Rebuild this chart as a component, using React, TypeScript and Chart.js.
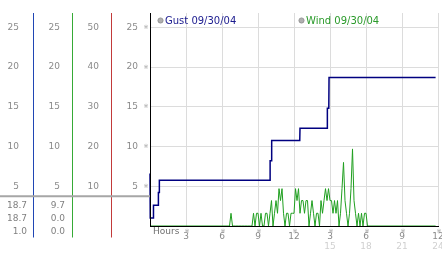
import { useEffect, useRef } from "react";
import { Chart, registerables } from "chart.js";

Chart.register(...registerables);

// ---- data ----
const speedTicks = [5, 10, 15, 20, 25];
const dirTicks = [10, 20, 30, 40, 50];
const hourTicks = [3, 6, 9, 12, 15, 18, 21, 24];
const hourLabels = ["3", "6", "9", "12", "3", "6", "9", "12"];
const hourLabels24 = ["", "", "", "", "15", "18", "21", "24"];

const gustLabel = "Gust 09/30/04";
const windLabel = "Wind 09/30/04";

const gustHours = [0, 0.02, 0.28, 0.29, 0.69, 0.7, 0.76, 0.78, 10.0, 10.01, 10.13, 10.14, 12.48, 12.5, 14.77, 14.78, 14.9, 14.92, 23.8];
const gustValues = [6.6, 1.0, 1.0, 2.6, 2.6, 4.2, 4.2, 5.75, 5.75, 8.2, 8.2, 10.75, 10.75, 12.3, 12.3, 14.8, 14.8, 18.7, 18.7];

// wind: zero at start / end, and samples every 7.5 minutes from 06:30
const windFirstHour = 0;
const windLastHour = 23.8;
const windSampleStart = 6.5;
const windSampleStepHours = 0.125;
const windSamples = [
  0, 0, 1.6, 0, 0, 0, 0, 0, 0, 0, 0, 0, 0, 0, 0, 0,
  0, 1.6, 0, 1.6, 1.6, 0, 1.6, 0, 0, 1.6, 1.6, 0,
  1.6, 3.2, 0, 1.6, 3.2, 1.6, 4.7, 3.2, 4.7, 1.6, 0, 1.6,
  1.6, 0, 1.6, 1.6, 1.6, 4.7, 3.2, 4.7, 1.6, 3.2, 3.2, 1.6,
  3.2, 3.2, 0, 1.6, 3.2, 1.6, 0, 1.6, 1.6, 0, 3.2, 1.6,
  3.2, 4.7, 3.2, 4.7, 3.2, 3.2, 1.6, 3.2, 1.6, 3.2, 0, 1.6,
  4.7, 8.0, 3.2, 1.6, 0, 1.6, 4.7, 9.7, 3.2, 1.6, 0, 1.6,
  0, 1.6, 0, 1.6, 1.6, 0, 0,
];

const GUST_COLOR = "#000080";
const WIND_COLOR = "#1f9f1f";
const COL1_COLOR = "#2046b4";
const COL2_COLOR = "#36aa36";
const COL3_COLOR = "#c23a3a";
const TICK_COLOR = "#8a8a8a";
const FONT = "'DejaVu Sans', Verdana, sans-serif";
const Y_MAX = 26.8;

export default function App() {
  const ref = useRef<HTMLCanvasElement | null>(null);

  useEffect(() => {
    if (!ref.current) return;

    const gustData = gustHours.map((h, i) => ({ x: h, y: gustValues[i] }));
    const windData = [{ x: windFirstHour, y: 0 }]
      .concat(windSamples.map((v, i) => ({ x: windSampleStart + i * windSampleStepHours, y: v })))
      .concat([{ x: windLastHour, y: 0 }]);

    const gustReadout = [Math.max(...gustValues), gustValues[gustValues.length - 1], Math.min(...gustValues)];
    const windVals = windData.map((p) => p.y);
    const windReadout = [Math.max(...windVals), windVals[windVals.length - 1], Math.min(...windVals)];

    const tickFont = { family: FONT, size: 9 };

    const leftAxis = (weight: number, width: number, color: string, max: number, ticks: number[], pad: number) => ({
      type: "linear" as const,
      position: "left" as const,
      weight,
      min: 0,
      max,
      afterBuildTicks: (s: any) => {
        s.ticks = ticks.map((v) => ({ value: v }));
      },
      afterFit: (s: any) => {
        s.width = width;
        s.paddingTop = 0;
        s.paddingBottom = 0;
      },
      grid: { display: false, drawTicks: false },
      border: { display: true, color, width: 1 },
      ticks: { padding: pad, color: TICK_COLOR, font: tickFont, callback: (v: any) => String(v) },
    });

    const decor = {
      id: "decor",
      afterDraw(chart: any) {
        const ctx = chart.ctx as CanvasRenderingContext2D;
        const area = chart.chartArea;
        const sy = chart.scales.y;
        const sx = chart.scales.x;
        ctx.save();
        // extend column lines below plot
        [["g1", COL1_COLOR], ["g2", COL2_COLOR], ["g3", COL3_COLOR]].forEach(([id, c]) => {
          const s = chart.scales[id];
          const x = Math.round(s.right - 0.5) + 0.5;
          ctx.strokeStyle = c;
          ctx.lineWidth = 1;
          ctx.beginPath();
          ctx.moveTo(x, area.bottom);
          ctx.lineTo(x, area.bottom + 11.5);
          ctx.stroke();
        });
        // separator
        const sepY = sy.getPixelForValue(3.75);
        ctx.strokeStyle = "#a6a6a6";
        ctx.lineWidth = 2;
        ctx.beginPath();
        ctx.moveTo(0, sepY);
        ctx.lineTo(area.left, sepY);
        ctx.stroke();
        // readouts
        ctx.font = `9px ${FONT}`;
        ctx.fillStyle = "#808080";
        ctx.textAlign = "right";
        ctx.textBaseline = "middle";
        const r1 = chart.scales.g1.right - 6;
        const r2 = chart.scales.g2.right - 7;
        for (let i = 0; i < 3; i++) {
          const y = sepY + 9.5 + i * 13.2;
          ctx.fillText(gustReadout[i].toFixed(1), r1, y);
          ctx.fillText(windReadout[i].toFixed(1), r2, y);
        }
        // small marks
        ctx.font = `6px ${FONT}`;
        ctx.fillStyle = "#a0a0a0";
        ctx.textAlign = "center";
        speedTicks.forEach((v) => ctx.fillText("※", area.left - 4, sy.getPixelForValue(v)));
        hourTicks.forEach((h) => ctx.fillText("※", sx.getPixelForValue(h) + 1, area.bottom + 5));
        // Hours label
        ctx.font = `9px ${FONT}`;
        ctx.fillStyle = "#707070";
        ctx.textAlign = "left";
        ctx.fillText("Hours", area.left + 3, area.bottom + 6);
        // legend
        const items = [
          { label: gustLabel, color: "#1a1a8e", x: area.left + 10.5 },
          { label: windLabel, color: "#2a9a2a", x: area.left + 151.5 },
        ];
        ctx.font = `10px ${FONT}`;
        items.forEach((it) => {
          ctx.beginPath();
          ctx.arc(it.x, 20.5, 2.6, 0, Math.PI * 2);
          ctx.fillStyle = "#b0b0b0";
          ctx.fill();
          ctx.strokeStyle = "#8c8c8c";
          ctx.lineWidth = 0.8;
          ctx.stroke();
          ctx.fillStyle = it.color;
          ctx.textAlign = "left";
          ctx.fillText(it.label, it.x + 4.5, 21);
        });
        ctx.restore();
      },
    };

    const chart = new Chart(ref.current, {
      type: "line",
      data: {
        datasets: [
          {
            label: windLabel,
            data: windData,
            borderColor: WIND_COLOR,
            borderWidth: 1,
            pointRadius: 0,
            tension: 0,
            xAxisID: "x",
            yAxisID: "y",
            clip: 3,
          },
          {
            label: gustLabel,
            data: gustData,
            borderColor: GUST_COLOR,
            borderWidth: 1.5,
            pointRadius: 0,
            tension: 0,
            xAxisID: "x",
            yAxisID: "y",
            clip: 3,
          },
        ],
      },
      options: {
        responsive: false,
        animation: false,
        events: [],
        parsing: false as any,
        layout: { padding: { top: 13, right: 4, left: 0, bottom: 0 } },
        plugins: { legend: { display: false }, tooltip: { enabled: false } },
        scales: {
          g1: leftAxis(3, 33, COL1_COLOR, Y_MAX, speedTicks, 14),
          g2: leftAxis(2, 39, COL2_COLOR, Y_MAX, speedTicks, 12),
          g3: leftAxis(1, 39, COL3_COLOR, Y_MAX * 2, dirTicks, 12),
          y: {
            type: "linear",
            position: "left",
            weight: 0,
            min: 0,
            max: Y_MAX,
            afterBuildTicks: (s: any) => {
              s.ticks = speedTicks.map((v) => ({ value: v }));
            },
            afterFit: (s: any) => {
              s.width = 39;
              s.paddingTop = 0;
              s.paddingBottom = 0;
            },
            grid: { color: "#dcdcdc", drawTicks: false },
            border: { display: true, color: "#000000", width: 1, z: 1 },
            ticks: { padding: 12, color: TICK_COLOR, font: tickFont, callback: (v: any) => String(v) },
          },
          x: {
            type: "linear",
            position: "bottom",
            weight: 0,
            min: 0,
            max: 24,
            afterBuildTicks: (s: any) => {
              s.ticks = hourTicks.map((v) => ({ value: v }));
            },
            afterFit: (s: any) => {
              s.height = 14;
              s.paddingLeft = 0;
              s.paddingRight = 0;
            },
            grid: { color: "#dcdcdc", drawTicks: false },
            border: { display: true, color: "#000000", width: 1, z: 1 },
            ticks: {
              padding: 5.5,
              color: TICK_COLOR,
              font: tickFont,
              maxRotation: 0,
              autoSkip: false,
              callback: (_v: any, i: number) => hourLabels[i],
            },
          },
          x2: {
            type: "linear",
            position: "bottom",
            weight: 1,
            min: 0,
            max: 24,
            afterBuildTicks: (s: any) => {
              s.ticks = hourTicks.map((v) => ({ value: v }));
            },
            afterFit: (s: any) => {
              s.height = 13;
              s.paddingLeft = 0;
              s.paddingRight = 0;
            },
            grid: { display: false, drawTicks: false },
            border: { display: false },
            ticks: {
              padding: 1,
              color: "#d0d0d0",
              font: tickFont,
              maxRotation: 0,
              autoSkip: false,
              callback: (_v: any, i: number) => hourLabels24[i],
            },
          },
        },
      } as any,
      plugins: [decor],
    });

    return () => chart.destroy();
  }, []);

  return (
    <div style={{ position: "fixed", left: 0, top: 0, width: 442, height: 253, background: "#ffffff" }}>
      <canvas ref={ref} width={442} height={253} style={{ display: "block" }} />
    </div>
  );
}
